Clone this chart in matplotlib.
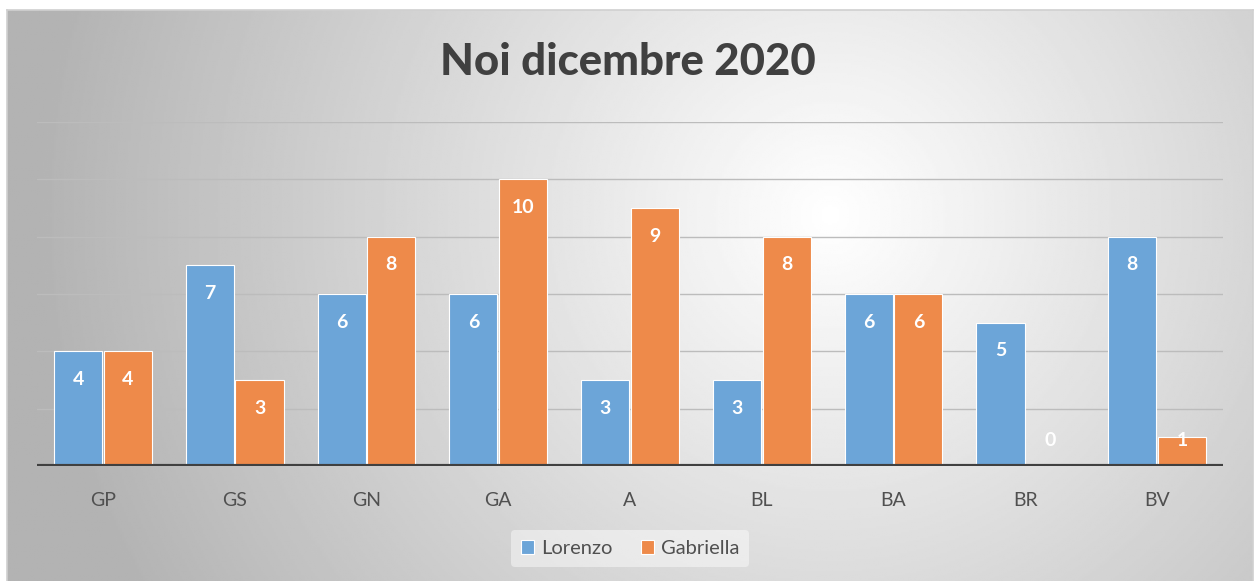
import numpy as np
import matplotlib.pyplot as plt

# Dati
categorie = ['GP', 'GS', 'GN', 'GA', 'A', 'BL', 'BA', 'BR', 'BV']
lorenzo = [4, 7, 6, 6, 3, 3, 6, 5, 8]
gabriella = [4, 3, 8, 10, 9, 8, 6, 0, 1]
serie = ['Lorenzo', 'Gabriella']
colori = ['#6ca5d8', '#ee8a4a']

plt.rcParams['font.family'] = ['Lato', 'DejaVu Sans']

fig = plt.figure(figsize=(12.56, 5.81), dpi=100)
fig.patch.set_facecolor('white')

# Sfondo sfumato radiale (area grafico)
bg = fig.add_axes([7 / 1256, -0.02, 1246 / 1256, 1.02 - 10 / 581])
h, w = 300, 600
yy, xx = np.mgrid[0:h, 0:w]
cx, cy = 0.66 * w, 0.35 * h
d = np.sqrt(((xx - cx) / w) ** 2 + ((yy - cy) / (h * 2.1)) ** 2)
val = 1.0 - 0.30 * np.clip(d / 0.64, 0, 1)
bg.imshow(val, cmap='gray', vmin=0, vmax=1, aspect='auto', extent=[0, 1, 0, 1])
bg.set_xticks([])
bg.set_yticks([])
for s in bg.spines.values():
    s.set_color('#d0d0d0')
    s.set_linewidth(1.2)

ax = fig.add_axes([37 / 1256, 1 - 466 / 581, 1186 / 1256, 344 / 581])
ax.patch.set_alpha(0)

x = np.arange(len(categorie))
larg = 0.365
b1 = ax.bar(x - larg / 2 - 0.006, lorenzo, larg, color=colori[0], edgecolor='white',
            linewidth=0.8, label=serie[0], zorder=3)
b2 = ax.bar(x + larg / 2 + 0.006, gabriella, larg, color=colori[1], edgecolor='white',
            linewidth=0.8, label=serie[1], zorder=3)

for barre, valori in [(b1, lorenzo), (b2, gabriella)]:
    for b, v in zip(barre, valori):
        ax.text(b.get_x() + b.get_width() / 2, max(v - 0.98, 0.88), str(v),
                ha='center', va='center', color='white', fontsize=14,
                fontweight='bold', zorder=4)

ax.set_xlim(-0.5, len(categorie) - 0.5)
ax.set_ylim(0, 12)
ax.set_yticks(np.arange(2, 13, 2))
ax.set_yticklabels([])
ax.tick_params(axis='y', length=0)
ax.grid(axis='y', color='#bcbcbc', linewidth=1, zorder=1)
ax.axhline(0, color='#404040', linewidth=3, zorder=5)
for s in ax.spines.values():
    s.set_visible(False)

ax.set_xticks(x)
ax.set_xticklabels(categorie, fontsize=14, color='#505050')
ax.tick_params(axis='x', length=0, pad=19)

fig.text(0.5, 1 - 62 / 581, 'Noi dicembre 2020', ha='center', va='center',
         fontsize=31.5, fontweight='black', color='#404040')

leg = ax.legend(loc='center', bbox_to_anchor=(0.5, -0.24), ncol=2, frameon=True,
                fontsize=14.5, handlelength=0.65, handleheight=0.65, handletextpad=0.35,
                columnspacing=1.4, borderpad=0.5)
leg.get_frame().set_facecolor('white')
leg.get_frame().set_alpha(0.45)
leg.get_frame().set_edgecolor('none')
for t in leg.get_texts():
    t.set_color('#505050')

plt.savefig('out.png', dpi=100)
